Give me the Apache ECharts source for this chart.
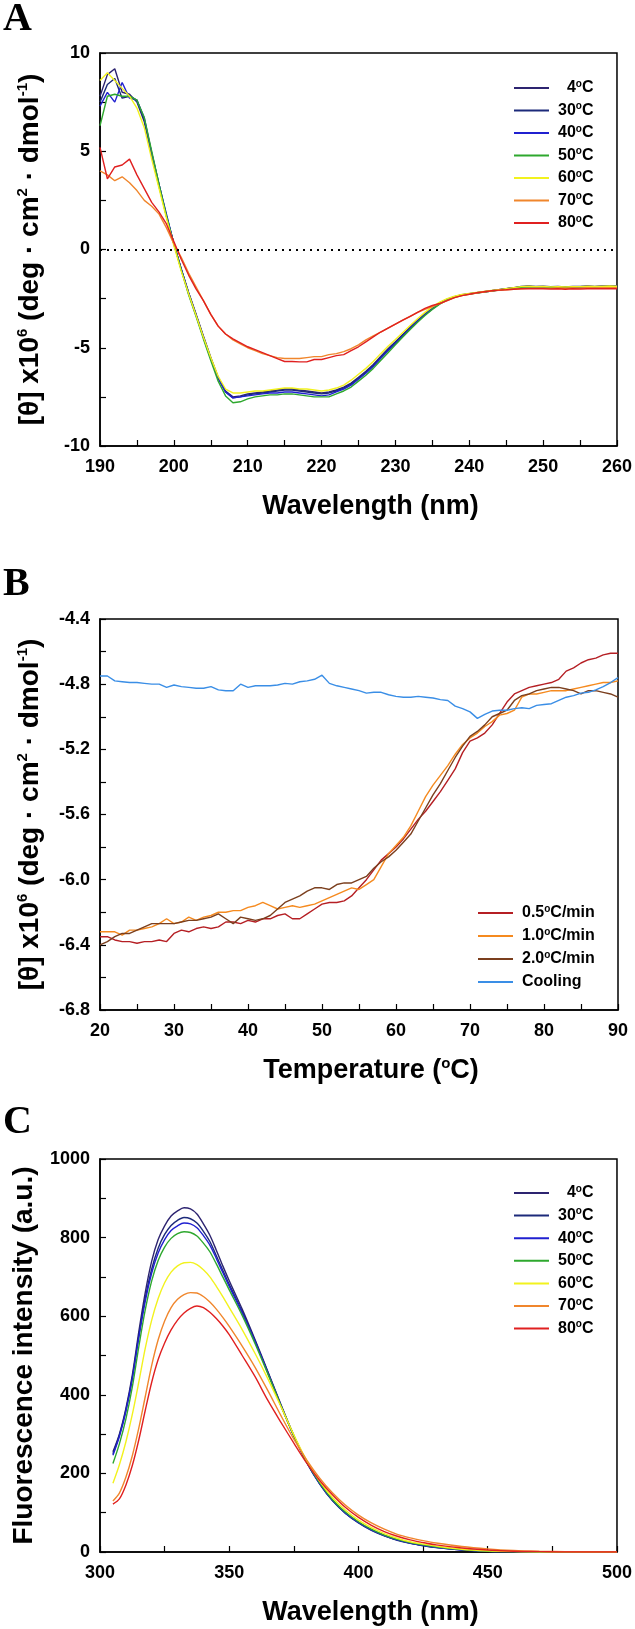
<!DOCTYPE html>
<html><head><meta charset="utf-8">
<script src="https://cdn.jsdelivr.net/npm/echarts/dist/echarts.min.js"></script>
<style>html,body{margin:0;padding:0;background:#fff}#c{width:635px;height:1629px}</style>
</head><body><div id="c"></div>
<script>
// ---------- Panel A: CD spectra ----------
const aWave = [190,191,192,193,194,195,196,197,198,199,200,201,202,203,204,205,206,207,208,209,210,211,212,213,214,215,216,217,218,219,220,221,222,223,224,225,226,227,228,229,230,231,232,233,234,235,236,237,238,239,240,241,242,243,244,245,246,247,248,249,250,251,252,253,254,255,256,257,258,259,260];
const a4  = [7.8,8.9,9.2,8.0,7.9,7.5,6.5,4.8,3.2,1.7,0.3,-1.0,-2.2,-3.3,-4.4,-5.5,-6.5,-7.2,-7.5,-7.45,-7.35,-7.3,-7.25,-7.2,-7.15,-7.1,-7.1,-7.15,-7.2,-7.25,-7.3,-7.25,-7.15,-7.0,-6.8,-6.5,-6.2,-5.85,-5.45,-5.05,-4.7,-4.32,-3.96,-3.6,-3.27,-2.97,-2.72,-2.53,-2.4,-2.3,-2.25,-2.2,-2.15,-2.1,-2.05,-2.0,-1.95,-1.9,-1.88,-1.9,-1.89,-1.91,-1.9,-1.92,-1.9,-1.9,-1.88,-1.9,-1.88,-1.87,-1.88];
const a30 = [7.5,8.4,8.7,7.7,7.8,7.6,6.6,4.9,3.3,1.7,0.3,-1.0,-2.2,-3.3,-4.45,-5.55,-6.55,-7.25,-7.55,-7.5,-7.4,-7.35,-7.3,-7.25,-7.2,-7.15,-7.15,-7.2,-7.25,-7.3,-7.35,-7.3,-7.2,-7.05,-6.85,-6.55,-6.25,-5.9,-5.5,-5.1,-4.72,-4.35,-3.98,-3.62,-3.3,-3.0,-2.74,-2.55,-2.41,-2.31,-2.25,-2.2,-2.15,-2.1,-2.05,-2.0,-1.95,-1.88,-1.86,-1.88,-1.87,-1.89,-1.88,-1.9,-1.88,-1.88,-1.86,-1.88,-1.86,-1.85,-1.86];
const a40 = [7.3,8.0,7.5,8.5,7.7,7.6,6.7,4.9,3.3,1.8,0.3,-1.0,-2.25,-3.35,-4.45,-5.55,-6.55,-7.25,-7.55,-7.5,-7.45,-7.4,-7.35,-7.3,-7.3,-7.25,-7.25,-7.3,-7.35,-7.4,-7.45,-7.4,-7.25,-7.1,-6.9,-6.6,-6.3,-5.95,-5.55,-5.15,-4.78,-4.4,-4.02,-3.65,-3.32,-3.02,-2.76,-2.56,-2.42,-2.32,-2.26,-2.21,-2.16,-2.11,-2.06,-2.01,-1.96,-1.9,-1.88,-1.9,-1.89,-1.9,-1.89,-1.91,-1.9,-1.89,-1.88,-1.89,-1.87,-1.86,-1.87];
const a50 = [6.3,7.8,7.9,7.8,7.8,7.6,6.7,5.0,3.3,1.7,0.3,-1.05,-2.3,-3.4,-4.55,-5.65,-6.7,-7.45,-7.8,-7.75,-7.6,-7.5,-7.45,-7.4,-7.4,-7.35,-7.35,-7.4,-7.45,-7.5,-7.5,-7.5,-7.35,-7.2,-7.0,-6.7,-6.4,-6.05,-5.65,-5.25,-4.85,-4.45,-4.07,-3.7,-3.36,-3.05,-2.78,-2.57,-2.43,-2.33,-2.27,-2.22,-2.16,-2.11,-2.06,-2.01,-1.96,-1.92,-1.9,-1.91,-1.9,-1.92,-1.91,-1.92,-1.91,-1.9,-1.9,-1.91,-1.89,-1.88,-1.89];
const a60 = [8.6,9.0,8.6,8.2,7.8,7.2,6.2,4.6,3.1,1.6,0.2,-1.1,-2.25,-3.35,-4.45,-5.5,-6.45,-7.1,-7.3,-7.3,-7.25,-7.2,-7.2,-7.15,-7.1,-7.05,-7.05,-7.1,-7.1,-7.15,-7.2,-7.15,-7.05,-6.9,-6.65,-6.35,-6.05,-5.7,-5.3,-4.92,-4.58,-4.22,-3.87,-3.52,-3.2,-2.92,-2.68,-2.5,-2.38,-2.29,-2.24,-2.19,-2.14,-2.09,-2.04,-1.99,-1.94,-1.89,-1.87,-1.89,-1.88,-1.9,-1.89,-1.9,-1.89,-1.89,-1.87,-1.88,-1.87,-1.86,-1.87];
const a70 = [4.0,3.8,3.5,3.7,3.4,3.0,2.5,2.2,1.8,1.1,0.3,-0.4,-1.2,-1.9,-2.6,-3.3,-3.9,-4.3,-4.6,-4.8,-5.0,-5.15,-5.3,-5.4,-5.5,-5.55,-5.55,-5.55,-5.5,-5.45,-5.45,-5.35,-5.3,-5.2,-5.05,-4.85,-4.6,-4.4,-4.2,-4.0,-3.8,-3.6,-3.4,-3.2,-3.05,-2.9,-2.75,-2.6,-2.45,-2.35,-2.28,-2.22,-2.17,-2.12,-2.08,-2.05,-2.02,-2.0,-1.98,-1.97,-1.97,-1.98,-1.96,-1.97,-1.96,-1.97,-1.95,-1.96,-1.95,-1.95,-1.95];
const a80 = [5.2,3.6,4.2,4.3,4.6,3.8,3.1,2.4,1.9,1.3,0.4,-0.5,-1.3,-2.0,-2.6,-3.3,-3.9,-4.3,-4.55,-4.75,-4.95,-5.1,-5.25,-5.4,-5.55,-5.7,-5.7,-5.72,-5.72,-5.6,-5.6,-5.5,-5.4,-5.35,-5.15,-4.95,-4.7,-4.45,-4.2,-4.0,-3.8,-3.6,-3.4,-3.2,-3.0,-2.85,-2.75,-2.6,-2.45,-2.35,-2.28,-2.2,-2.15,-2.1,-2.07,-2.05,-2.02,-2.0,-1.99,-2.0,-2.0,-2.01,-2.0,-2.02,-2.0,-2.01,-2.0,-2.0,-1.99,-2.0,-2.0];

// ---------- Panel B: thermal melts ----------
const bTemp = [20,21,22,23,24,25,26,27,28,29,30,31,32,33,34,35,36,37,38,39,40,41,42,43,44,45,46,47,48,49,50,51,52,53,54,55,56,57,58,59,60,61,62,63,64,65,66,67,68,69,70,71,72,73,74,75,76,77,78,79,80,81,82,83,84,85,86,87,88,89,90];
const bRate05 = [-6.35,-6.35,-6.37,-6.38,-6.38,-6.39,-6.38,-6.38,-6.37,-6.38,-6.33,-6.31,-6.32,-6.30,-6.29,-6.30,-6.29,-6.26,-6.26,-6.27,-6.25,-6.26,-6.24,-6.24,-6.22,-6.21,-6.24,-6.24,-6.21,-6.18,-6.15,-6.14,-6.14,-6.13,-6.10,-6.05,-6.00,-5.94,-5.88,-5.84,-5.80,-5.75,-5.69,-5.63,-5.58,-5.52,-5.46,-5.39,-5.32,-5.22,-5.15,-5.13,-5.10,-5.05,-4.98,-4.91,-4.86,-4.84,-4.82,-4.81,-4.80,-4.79,-4.77,-4.72,-4.70,-4.67,-4.65,-4.64,-4.62,-4.61,-4.61];
const bRate10 = [-6.32,-6.32,-6.32,-6.34,-6.31,-6.31,-6.30,-6.29,-6.27,-6.24,-6.27,-6.26,-6.23,-6.25,-6.23,-6.22,-6.20,-6.20,-6.19,-6.19,-6.17,-6.16,-6.14,-6.16,-6.18,-6.17,-6.16,-6.17,-6.16,-6.15,-6.13,-6.11,-6.09,-6.07,-6.05,-6.06,-6.03,-6.00,-5.92,-5.84,-5.79,-5.74,-5.67,-5.58,-5.49,-5.42,-5.36,-5.30,-5.23,-5.17,-5.13,-5.10,-5.06,-5.03,-4.99,-4.98,-4.96,-4.88,-4.86,-4.86,-4.85,-4.84,-4.84,-4.84,-4.83,-4.82,-4.81,-4.80,-4.79,-4.79,-4.78];
const bRate20 = [-6.40,-6.38,-6.35,-6.33,-6.33,-6.31,-6.29,-6.27,-6.27,-6.27,-6.27,-6.26,-6.25,-6.25,-6.24,-6.23,-6.21,-6.24,-6.27,-6.23,-6.24,-6.25,-6.24,-6.22,-6.18,-6.14,-6.12,-6.10,-6.07,-6.05,-6.05,-6.06,-6.03,-6.02,-6.02,-6.00,-5.98,-5.93,-5.89,-5.86,-5.82,-5.77,-5.72,-5.64,-5.56,-5.48,-5.41,-5.33,-5.25,-5.18,-5.12,-5.09,-5.05,-5.00,-4.98,-4.96,-4.90,-4.87,-4.86,-4.84,-4.83,-4.82,-4.82,-4.83,-4.84,-4.86,-4.84,-4.84,-4.85,-4.86,-4.88];
const bCooling = [-4.75,-4.75,-4.78,-4.785,-4.79,-4.79,-4.795,-4.80,-4.80,-4.82,-4.805,-4.815,-4.82,-4.825,-4.825,-4.815,-4.835,-4.84,-4.84,-4.80,-4.82,-4.81,-4.81,-4.81,-4.805,-4.795,-4.80,-4.785,-4.78,-4.77,-4.745,-4.795,-4.81,-4.82,-4.83,-4.84,-4.855,-4.85,-4.85,-4.865,-4.875,-4.88,-4.88,-4.875,-4.88,-4.885,-4.895,-4.90,-4.935,-4.95,-4.97,-5.01,-4.985,-4.965,-4.96,-4.96,-4.95,-4.945,-4.95,-4.93,-4.925,-4.92,-4.90,-4.88,-4.87,-4.855,-4.85,-4.835,-4.815,-4.79,-4.76];

// ---------- Panel C: fluorescence spectra ----------
const cWave = [305,307.5,310,312.5,315,317.5,320,322.5,325,327.5,330,332.5,335,337.5,340,342.5,345,347.5,350,355,360,365,370,375,380,385,390,395,400,405,410,415,420,425,430,440,450,460,470,480,490,500];
const c4  = [255,300,365,450,560,660,740,795,830,855,868,876,873,860,835,806,768,728,690,618,540,458,375,296,228,174,131,99,75,56,42,31,23,17,12,6,2,1,0,0,0,0];
const c30 = [250,297,360,444,550,646,720,773,808,831,844,851,848,837,816,790,754,717,681,612,537,456,373,295,227,173,130,98,74,55,41,30,22,16,11,5,2,1,0,0,0,0];
const c40 = [246,294,357,440,544,638,710,761,795,818,830,837,835,825,805,781,747,711,676,608,535,455,373,296,228,174,131,99,75,56,42,31,23,17,12,5,2,1,0,0,0,0];
const c50 = [225,275,338,420,522,616,690,742,776,798,810,815,813,804,786,764,733,700,667,602,530,452,372,296,229,176,133,101,77,58,43,32,24,18,13,6,2,1,0,0,0,0];
const c60 = [175,222,280,350,432,518,590,645,685,712,728,736,737,731,718,700,676,650,622,566,505,440,370,298,232,180,138,106,81,62,47,35,26,20,15,7,3,1,0,0,0,0];
const c70 = [130,150,190,245,315,395,475,540,588,622,643,655,660,659,650,636,618,597,574,524,470,410,347,287,234,188,150,119,94,74,58,45,36,29,23,14,8,4,2,1,0,0];
const c80 = [122,135,170,220,285,360,432,490,532,565,590,608,620,626,622,610,594,575,553,500,446,385,330,277,226,182,145,113,88,68,52,40,31,24,18,10,5,2,1,0,0,0];

const tempNames = ['4°C','30°C','40°C','50°C','60°C','70°C','80°C'];
const tempColors = ['#2d2470','#1c2a7a','#2020d0','#2ea82e','#f2f21e','#f0862c','#e02020'];
const rateNames = ['0.5°C/min','1.0°C/min','2.0°C/min','Cooling'];
const rateColors = ['#b51f24','#f58a1f','#7b3f1e','#3a8ee6'];

const FONT = 'Liberation Sans, Arial, sans-serif';
const sup = {fontSize: 15, fontWeight: 'bold', fontFamily: FONT, color: '#000', verticalAlign: 'top', lineHeight: 30};
const supSmall = {fontSize: 10, fontWeight: 'bold', fontFamily: FONT, color: '#000', verticalAlign: 'top', lineHeight: 18};

function zip(xs, ys){ return xs.map((x,i)=>[x, ys[i]]); }

const labelBase = {color: '#000', fontFamily: FONT, fontWeight: 'bold', fontSize: 18, showMinLabel: true, showMaxLabel: true};
function axisBase(extra, nameSize, labelExtra, namePad){
  const o = {
    type: 'value',
    axisLine: {show: true, onZero: false, lineStyle: {color: '#000', width: 1.5}},
    axisTick: {show: true, inside: true, length: 6, lineStyle: {color: '#000', width: 1.2}},
    minorTick: {show: true, splitNumber: 2, length: 6, lineStyle: {color: '#000', width: 1.2}},
    splitLine: {show: false},
    axisLabel: Object.assign({}, labelBase, labelExtra),
    nameLocation: 'middle',
    nameTextStyle: {color: '#000', fontFamily: FONT, fontWeight: 'bold', fontSize: nameSize, lineHeight: 30, padding: namePad || 0, rich: {s: sup}}
  };
  return Object.assign(o, extra);
}
const thetaName = '[θ] x10{s|6} (deg · cm{s|2} · dmol{s|-1})';

const grids = [
  {left: 100, top: 53, width: 518, height: 393},
  {left: 100, top: 619, width: 518, height: 391},
  {left: 100, top: 1159, width: 518, height: 393}
].map(g => Object.assign(g, {show: true, borderColor: '#000', borderWidth: 1.5, backgroundColor: 'transparent'}));

const xPad = [0, 0, 0, 24];
const xAxes = [
  axisBase({gridIndex: 0, min: 190, max: 260, interval: 10, name: 'Wavelength (nm)', nameGap: 46}, 27, {margin: 12}, xPad),
  axisBase({gridIndex: 1, min: 20, max: 90, interval: 10, name: 'Temperature ({s|o}C)', nameGap: 46}, 27, {margin: 12}, xPad),
  axisBase({gridIndex: 2, min: 300, max: 500, interval: 50, name: 'Wavelength (nm)', nameGap: 46}, 27, {margin: 12}, xPad)
];
const yAxes = [
  axisBase({gridIndex: 0, min: -10, max: 10, interval: 5, name: thetaName, nameGap: 55}, 28, {margin: 10}),
  axisBase({gridIndex: 1, min: -6.8, max: -4.4, interval: 0.4, name: thetaName, nameGap: 55}, 28, {margin: 10, formatter: v => v.toFixed(1)}),
  axisBase({gridIndex: 2, min: 0, max: 1000, interval: 200, name: 'Fluorescence intensity (a.u.)', nameGap: 55}, 28, {margin: 10, formatter: v => String(v)})
];

function lineSeries(name, color, data, idx, smooth){
  return {
    type: 'line', name: name, xAxisIndex: idx, yAxisIndex: idx, data: data,
    showSymbol: false, symbol: 'none', smooth: smooth || false,
    color: color, itemStyle: {color: color},
    lineStyle: {color: color, width: 1.4}, animation: false
  };
}

const series = [];
series.push({type: 'line', name: 'zero', xAxisIndex: 0, yAxisIndex: 0, data: [], animation: false,
  markLine: {silent: true, symbol: 'none', label: {show: false},
    lineStyle: {type: [2, 5], color: '#000', width: 2}, data: [{yAxis: 0}], animation: false}});
const aSets = [a4, a30, a40, a50, a60, a70, a80];
aSets.forEach((arr, i) => series.push(lineSeries(tempNames[i], tempColors[i], zip(aWave, arr), 0)));
const bSets = [bRate05, bRate10, bRate20, bCooling];
bSets.forEach((arr, i) => series.push(lineSeries(rateNames[i], rateColors[i], zip(bTemp, arr), 1)));
const cSets = [c4, c30, c40, c50, c60, c70, c80];
cSets.forEach((arr, i) => series.push(lineSeries(tempNames[i], tempColors[i], zip(cWave, arr), 2, 0.3)));

function legendCfg(names, left, top, gap, rightAlign){
  return {
    orient: 'vertical', left: left, top: top, padding: 0, itemWidth: 35, itemHeight: 2, itemGap: gap,
    icon: 'rect', selectedMode: false, data: names,
    formatter: n => (rightAlign && n.length < 4 ? '  ' : '') + n.replace('°', '{s|o}'),
    textStyle: {color: '#000', fontFamily: FONT, fontWeight: 'bold', fontSize: 16, lineHeight: 18, padding: [0, 0, 0, 4], rich: {s: supSmall}}
  };
}

const letterFont = 'bold 40px "Liberation Serif", "Times New Roman", serif';
const option = {
  backgroundColor: '#fff',
  animation: false,
  grid: grids,
  xAxis: xAxes,
  yAxis: yAxes,
  legend: [
    legendCfg(tempNames, 514, 79, 4.5, true),
    legendCfg(rateNames, 478, 904, 5, false),
    legendCfg(tempNames, 514, 1184, 4.6, true)
  ],
  graphic: [
    {type: 'text', x: 3, y: 20, style: {text: 'A', font: letterFont, fill: '#000', textVerticalAlign: 'middle'}},
    {type: 'text', x: 3, y: 585, style: {text: 'B', font: letterFont, fill: '#000', textVerticalAlign: 'middle'}},
    {type: 'text', x: 3, y: 1123, style: {text: 'C', font: letterFont, fill: '#000', textVerticalAlign: 'middle'}}
  ],
  series: series
};
const chart = echarts.init(document.getElementById('c'), null, {renderer: 'canvas'});
chart.setOption(option);
</script></body></html>
